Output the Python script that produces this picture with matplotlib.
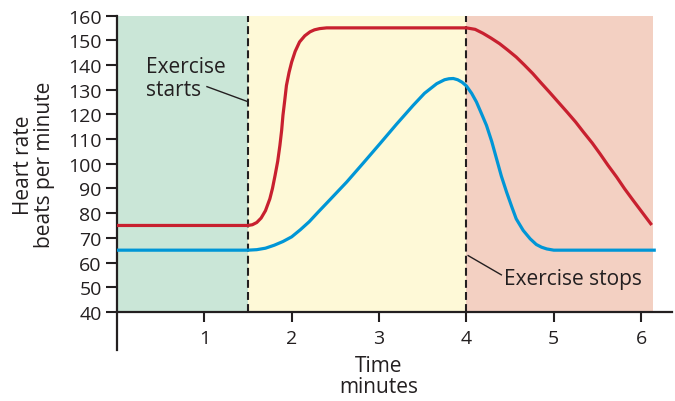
import matplotlib
matplotlib.use("Agg")
import matplotlib.pyplot as plt

# data
red_t = [0, 1.5, 1.55, 1.6, 1.65, 1.7, 1.75, 1.78, 1.81, 1.84, 1.865, 1.885, 1.90,
         1.92, 1.94, 1.97, 2.0, 2.04, 2.09, 2.15, 2.21, 2.26, 2.32, 2.4,
         4.0, 4.1, 4.19, 4.28, 4.38, 4.47, 4.57, 4.66, 4.76, 4.85, 4.95, 5.05,
         5.15, 5.25, 5.34, 5.44, 5.53, 5.62, 5.72, 5.81, 5.91, 6.01, 6.11]
red_v = [75, 75, 75.3, 76.2, 78, 81, 85.8, 90, 95.3, 101, 107.4, 113.5, 119.6,
         125.5, 131.7, 137, 141.2, 145.5, 149.3, 151.8, 153.4, 154.2, 154.7, 155,
         155, 154.4, 152.8, 150.9, 148.6, 146.1, 143.2, 140.1, 136.5, 132.9, 129, 125,
         121, 116.9, 112.8, 108.4, 104, 99.4, 94.6, 89.9, 85.1, 80.4, 75.7]

blue_t = [0, 1.5, 1.6, 1.7, 1.8, 1.9, 2.0, 2.1, 2.2, 2.3, 2.44, 2.63, 2.82, 3.01,
          3.2, 3.39, 3.52, 3.66, 3.75, 3.8, 3.85, 3.9, 3.95, 4.0, 4.06, 4.115,
          4.17, 4.23, 4.29, 4.345, 4.4, 4.46, 4.52, 4.57, 4.65, 4.73, 4.8, 4.86,
          4.92, 5.0, 6.15]
blue_v = [65, 65, 65.2, 65.8, 67, 68.5, 70.4, 73.3, 76.5, 80.3, 85.5, 92.6, 100.3, 108.1,
          116, 123.6, 128.5, 132.4, 134, 134.4, 134.5, 134, 133, 131.5, 128.5, 125,
          120.5, 115.5, 109, 102, 95, 88.5, 82.5, 77.7, 73, 69.6, 67.3, 66.2,
          65.5, 65, 65]

phase_edges = [0, 1.5, 4.0, 6.14]
phase_colors = ["#cae6d7", "#fef9d7", "#f3d0c2"]
x_ticks = [1, 2, 3, 4, 5, 6]
y_ticks = list(range(40, 161, 10))

ink = "#231f20"
plt.rcParams['font.family'] = ['Open Sans', 'DejaVu Sans']

fig = plt.figure(figsize=(6.75, 4.02), dpi=100)
ax = fig.add_axes([0.1733, 0.1276, 0.8218, 0.8313])

# background phases
for i in range(3):
    ax.fill_between([phase_edges[i], phase_edges[i + 1]], 40, 160,
                    color=phase_colors[i], lw=0, zorder=0)

# dashed phase boundaries
for xb in [1.5, 4.0]:
    ax.plot([xb, xb], [40, 160], color=ink, lw=1.5, ls=(0, (3.8, 2.0)), zorder=2)

ax.plot(red_t, red_v, color="#c8202f", lw=2.3, zorder=3, solid_joinstyle='round')
ax.plot(blue_t, blue_v, color="#0096d6", lw=2.3, zorder=3, solid_joinstyle='round')

# annotations
ax.plot([1.03, 1.5], [131.2, 125.1], color=ink, lw=1.0, zorder=2)
ax.text(0.33, 134.8, "Exercise\nstarts", fontsize=15, color=ink, ha='left', va='center',
        linespacing=1.1)
ax.plot([4.02, 4.4], [62.8, 55.0], color=ink, lw=1.0, zorder=2)
ax.text(4.43, 53.4, "Exercise stops", fontsize=15, color=ink, ha='left', va='center')

ax.set_xlim(0, 6.35)
ax.set_ylim(24.7, 160)
ax.set_xticks(x_ticks)
ax.set_yticks(y_ticks)
ax.tick_params(axis='y', length=8, width=1.5, color=ink, labelcolor=ink, labelsize=14, pad=3)
ax.tick_params(axis='x', length=7, width=1.5, color=ink, labelcolor=ink, labelsize=14, pad=5)

for s in ['top', 'right']:
    ax.spines[s].set_visible(False)
ax.spines['bottom'].set_position(('data', 40))
ax.spines['bottom'].set_color(ink)
ax.spines['left'].set_color(ink)
ax.spines['bottom'].set_linewidth(1.6)
ax.spines['left'].set_linewidth(1.6)
ax.patch.set_visible(False)

fig.text(34 / 675, 1 - 165 / 402, "Heart rate\nbeats per minute", rotation=90,
         ha='center', va='center', fontsize=15, color=ink, linespacing=0.95)
fig.text(379 / 675, 1 - 377 / 402, "Time\nminutes", ha='center', va='center',
         fontsize=15, color=ink, linespacing=1.0)

fig.savefig("out.png", dpi=100)
